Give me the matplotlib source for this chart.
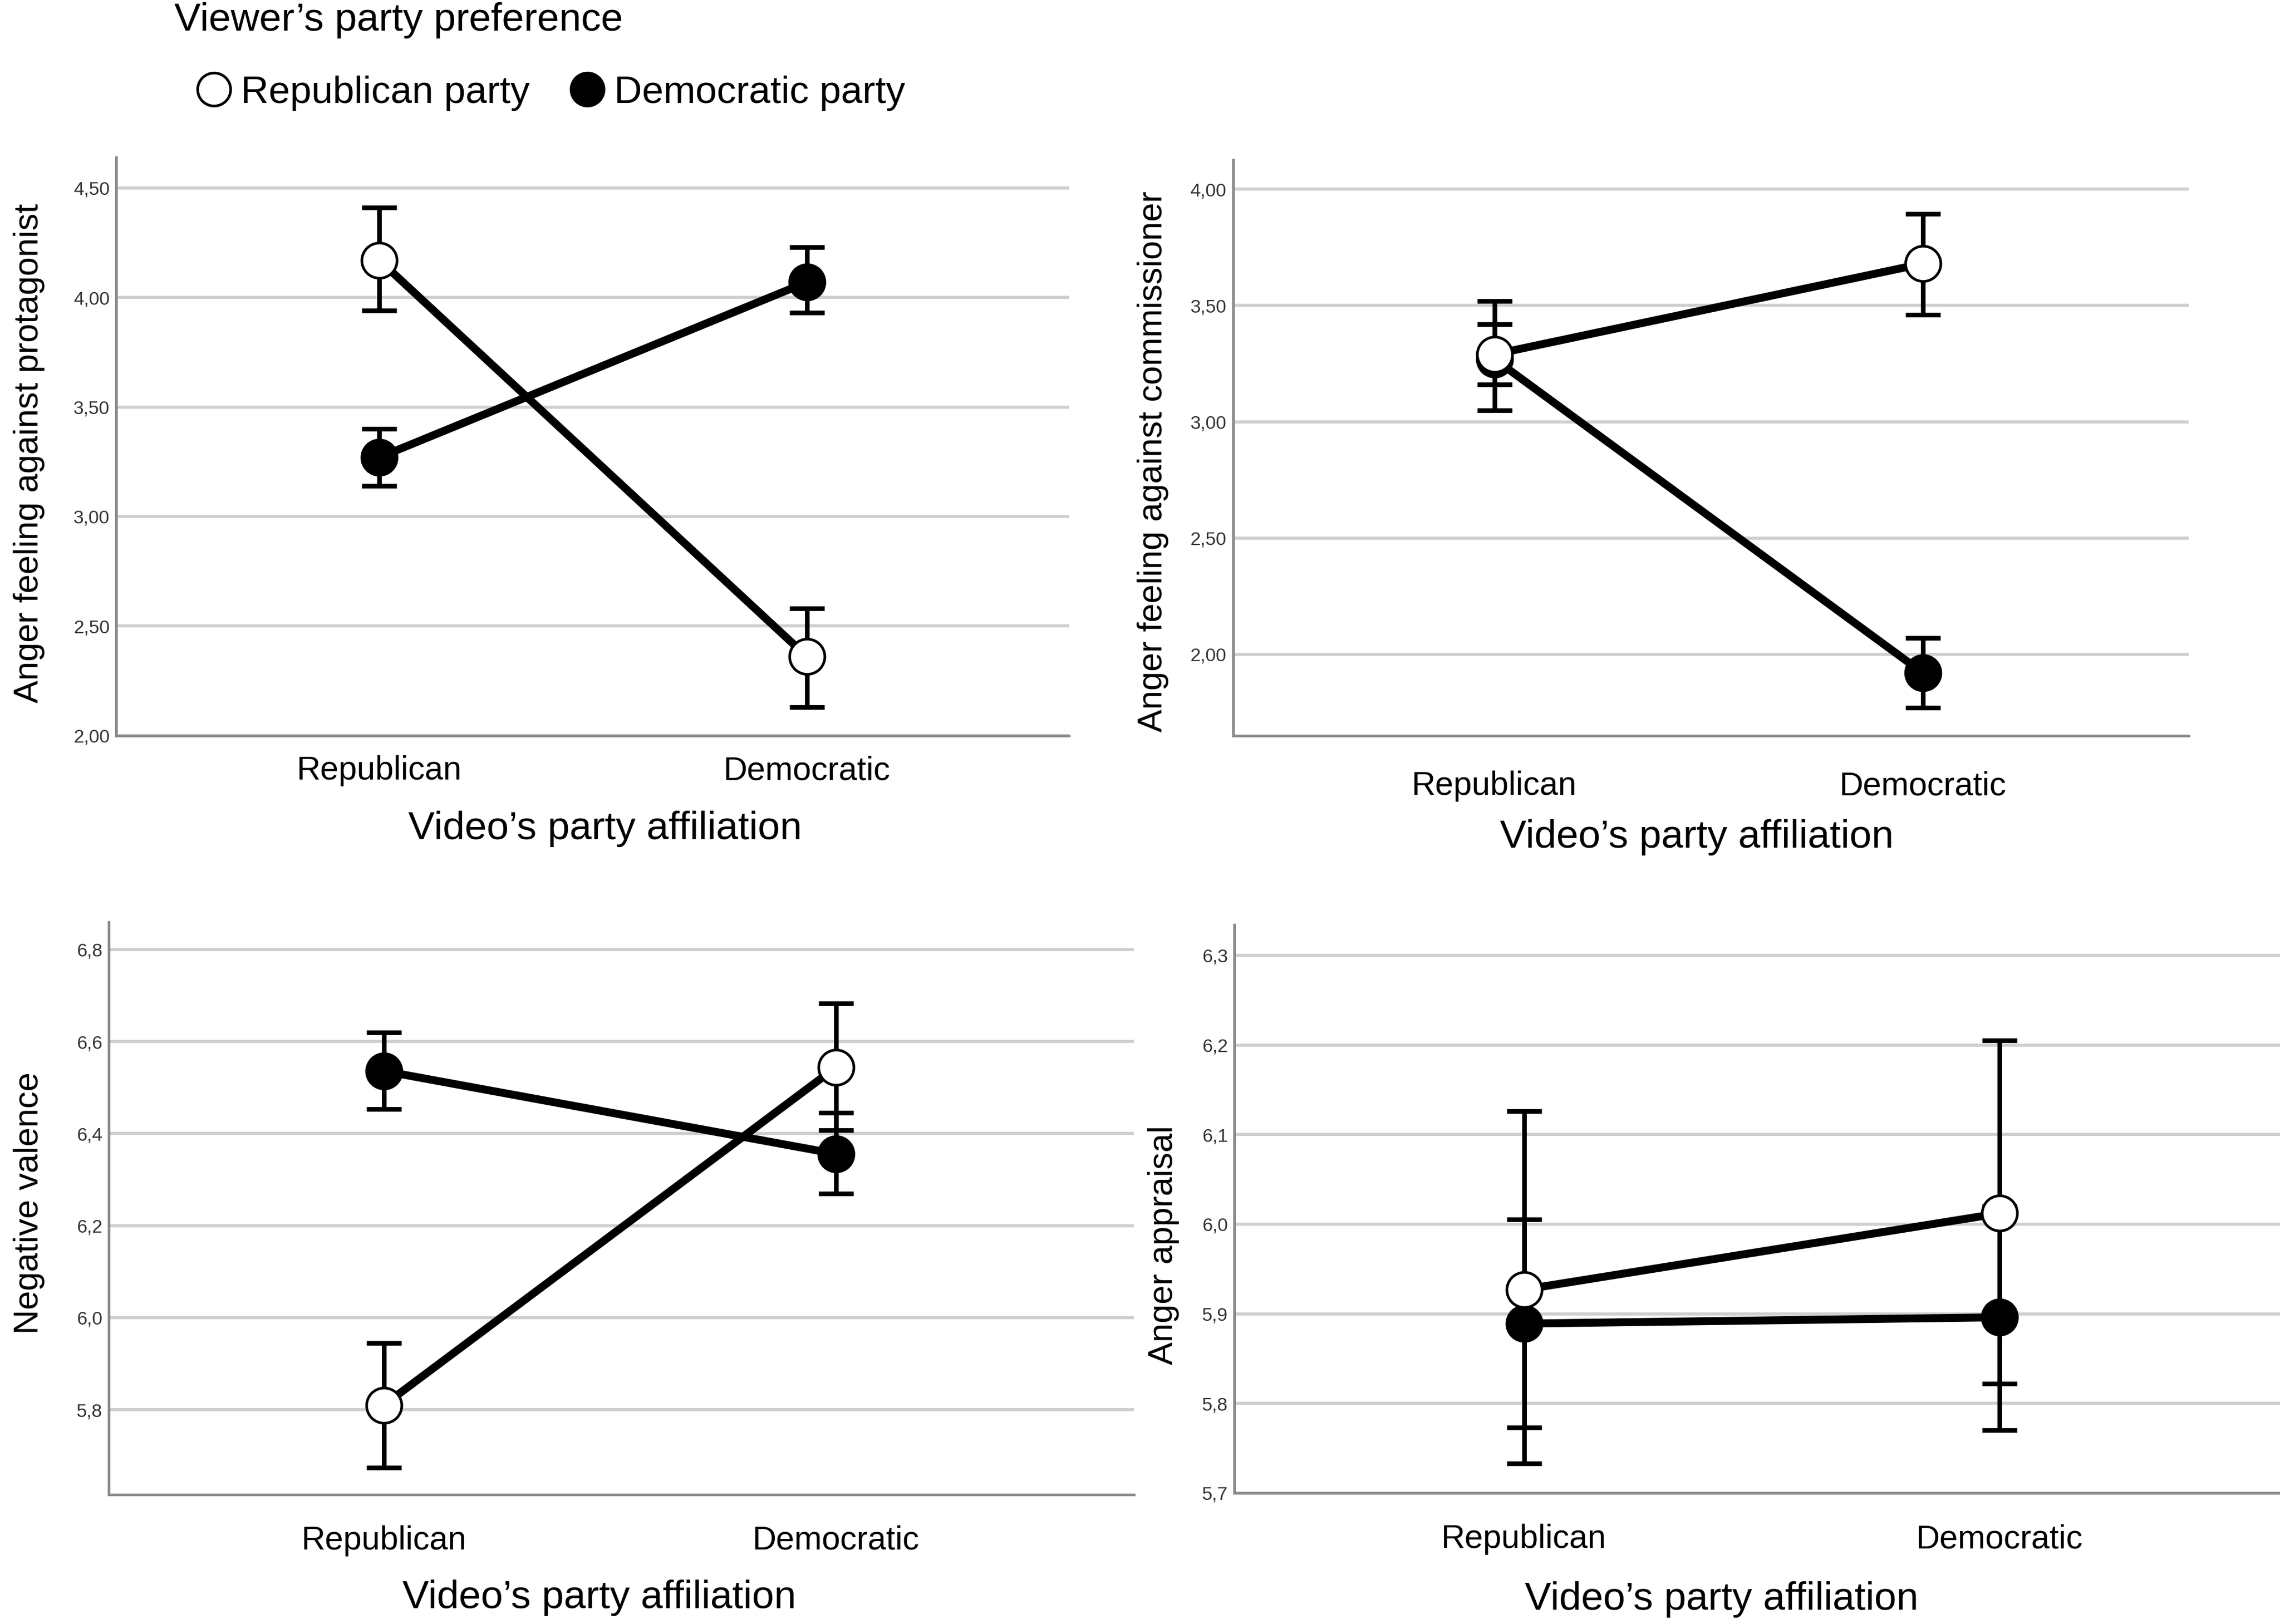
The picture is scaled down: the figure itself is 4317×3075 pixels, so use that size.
import matplotlib
matplotlib.use("Agg")
import matplotlib.pyplot as plt
from matplotlib.ticker import FuncFormatter
from matplotlib.lines import Line2D

plt.rcParams["font.family"] = ["Liberation Sans", "DejaVu Sans"]

categories = ["Republican", "Democratic"]

# Anger feeling against protagonist
prot_rep_mean = [4.17, 2.36]
prot_rep_lo = [3.94, 2.13]
prot_rep_hi = [4.41, 2.58]
prot_dem_mean = [3.27, 4.07]
prot_dem_lo = [3.14, 3.93]
prot_dem_hi = [3.40, 4.23]

# Anger feeling against commissioner
comm_rep_mean = [3.29, 3.68]
comm_rep_lo = [3.05, 3.46]
comm_rep_hi = [3.52, 3.895]
comm_dem_mean = [3.27, 1.92]
comm_dem_lo = [3.16, 1.77]
comm_dem_hi = [3.42, 2.07]

# Negative valence
val_rep_mean = [5.81, 6.544]
val_rep_lo = [5.674, 6.407]
val_rep_hi = [5.945, 6.683]
val_dem_mean = [6.536, 6.356]
val_dem_lo = [6.453, 6.27]
val_dem_hi = [6.62, 6.445]

# Anger appraisal
app_rep_mean = [5.927, 6.012]
app_rep_lo = [5.733, 5.822]
app_rep_hi = [6.126, 6.205]
app_dem_mean = [5.889, 5.896]
app_dem_lo = [5.773, 5.77]
app_dem_hi = [6.005, 6.02]

W, H = 1568, 1115  # layout measured on a 1568 px wide copy


def fx(px):
    return px / W


def fy(py):
    return 1 - py / H


fig = plt.figure(figsize=(4317 / 300, 3075 / 300), dpi=300)


def panel(box, ylim, yticks, decimals, xlim, rep, dem, ylabel, ylab_pos, xlab_pos, tick_pad):
    l, t, r, b = box
    ax = fig.add_axes([fx(l), fy(b), fx(r) - fx(l), fy(t) - fy(b)])
    x = [0, 1]
    for (m, lo, hi), face in ((dem, "black"), (rep, "white")):
        yerr = [[mi - a for mi, a in zip(m, lo)], [c - mi for mi, c in zip(m, hi)]]
        ax.errorbar(x, m, yerr=yerr, fmt="none", ecolor="black", elinewidth=2.1,
                    capsize=8, capthick=2.1, zorder=3)
    for (m, lo, hi), face in ((dem, "black"), (rep, "white")):
        ax.plot(x, m, color="black", lw=3.6, solid_capstyle="round", zorder=4)
    for (m, lo, hi), face in ((dem, "black"), (rep, "white")):
        ax.plot(x, m, ls="none", marker="o", ms=16, mfc=face, mec="black", mew=1.2, zorder=5)
    ax.set_xlim(*xlim)
    ax.set_ylim(*ylim)
    ax.set_yticks(yticks)
    ax.yaxis.set_major_formatter(FuncFormatter(lambda v, p: f"{v:.{decimals}f}".replace(".", ",")))
    ax.set_xticks(x)
    ax.set_xticklabels(categories, fontsize=15)
    ax.tick_params(axis="y", length=0, labelsize=8.5, pad=3, labelcolor="#333333")
    ax.tick_params(axis="x", length=0, pad=tick_pad)
    ax.grid(axis="y", color="#cfcfcf", lw=1.4)
    ax.set_axisbelow(True)
    for s in ("top", "right"):
        ax.spines[s].set_visible(False)
    for s in ("left", "bottom"):
        ax.spines[s].set_color("#8a8a8a")
        ax.spines[s].set_linewidth(1.2)
    fig.text(fx(ylab_pos[0]), fy(ylab_pos[1]), ylabel, rotation=90, fontsize=15.5,
             ha="center", va="center")
    fig.text(fx(xlab_pos[0]), fy(xlab_pos[1]), "Video\u2019s party affiliation", fontsize=18,
             ha="center", va="center")
    return ax


panel((80, 108, 735, 505), (2.0, 4.64), [2.0, 2.5, 3.0, 3.5, 4.0, 4.5], 2, (-0.615, 1.612),
      (prot_rep_mean, prot_rep_lo, prot_rep_hi), (prot_dem_mean, prot_dem_lo, prot_dem_hi),
      "Anger feeling against protagonist", (20, 311), (416, 569), 9)

panel((848, 110, 1505, 505), (1.65, 4.125), [2.0, 2.5, 3.0, 3.5, 4.0], 2, (-0.61, 1.62),
      (comm_rep_mean, comm_rep_lo, comm_rep_hi), (comm_dem_mean, comm_dem_lo, comm_dem_hi),
      "Anger feeling against commissioner", (793, 317), (1167, 575), 16)

panel((75, 633, 780, 1026), (5.616, 6.86), [5.8, 6.0, 6.2, 6.4, 6.6, 6.8], 1, (-0.608, 1.66),
      (val_rep_mean, val_rep_lo, val_rep_hi), (val_dem_mean, val_dem_lo, val_dem_hi),
      "Negative valence", (20, 826), (412, 1097), 14)

panel((849, 635, 1568, 1025), (5.7, 6.334), [5.7, 5.8, 5.9, 6.0, 6.1, 6.2, 6.3], 1, (-0.609, 1.59),
      (app_rep_mean, app_rep_lo, app_rep_hi), (app_dem_mean, app_dem_lo, app_dem_hi),
      "Anger appraisal", (800, 855), (1184, 1098), 14)

# legend
fig.text(fx(120), fy(14), "Viewer\u2019s party preference", fontsize=18, ha="left", va="center")
handles = [
    Line2D([], [], ls="none", marker="o", ms=15, mfc="white", mec="black", mew=1.2),
    Line2D([], [], ls="none", marker="o", ms=15, mfc="black", mec="black", mew=1.2),
]
fig.legend(handles, ["Republican party", "Democratic party"], loc="center left",
           bbox_to_anchor=(fx(110), fy(64)), ncol=2, frameon=False, fontsize=17.5,
           handletextpad=0.2, columnspacing=1.0, handlelength=1.0)

fig.savefig("out.png", dpi=300)
